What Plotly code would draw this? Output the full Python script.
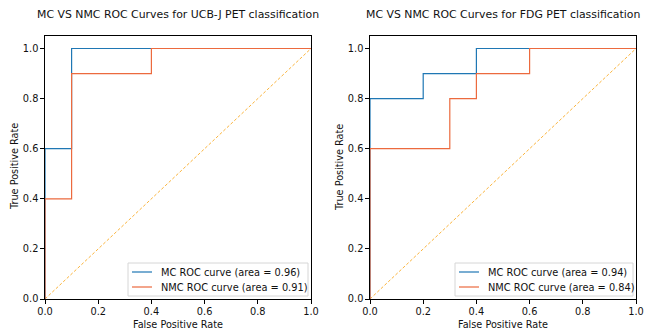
import plotly.graph_objects as go

# ---- data ----
ucbj_mc_fpr = [0.0, 0.0, 0.1, 0.1, 1.0]
ucbj_mc_tpr = [0.0, 0.6, 0.6, 1.0, 1.0]
ucbj_nmc_fpr = [0.0, 0.0, 0.1, 0.1, 0.4, 0.4, 1.0]
ucbj_nmc_tpr = [0.0, 0.4, 0.4, 0.9, 0.9, 1.0, 1.0]
fdg_mc_fpr = [0.0, 0.0, 0.2, 0.2, 0.4, 0.4, 1.0]
fdg_mc_tpr = [0.0, 0.8, 0.8, 0.9, 0.9, 1.0, 1.0]
fdg_nmc_fpr = [0.0, 0.0, 0.3, 0.3, 0.4, 0.4, 0.6, 0.6, 1.0]
fdg_nmc_tpr = [0.0, 0.6, 0.6, 0.8, 0.8, 0.9, 0.9, 1.0, 1.0]
diag = [0.0, 1.0]
titles = ["MC VS NMC ROC Curves for UCB-J PET classification",
          "MC VS NMC ROC Curves for FDG PET classification"]
mc_labels = ["MC ROC curve (area = 0.96)", "MC ROC curve (area = 0.94)"]
nmc_labels = ["NMC ROC curve (area = 0.91)", "NMC ROC curve (area = 0.84)"]
ticks = [0.0, 0.2, 0.4, 0.6, 0.8, 1.0]
tick_text = ["0.0", "0.2", "0.4", "0.6", "0.8", "1.0"]

W, H = 646, 333
BLUE = "#1f77b4"
RED = "#ec6a3e"
ORANGE = "#fbb43c"
FONT = "DejaVu Sans"
TXT = "#111"

fig = go.Figure()
panels = [
    (ucbj_mc_fpr, ucbj_mc_tpr, ucbj_nmc_fpr, ucbj_nmc_tpr, "x", "y"),
    (fdg_mc_fpr, fdg_mc_tpr, fdg_nmc_fpr, fdg_nmc_tpr, "x2", "y2"),
]
for mf, mt, nf, nt, xa, ya in panels:
    fig.add_trace(go.Scatter(x=diag, y=diag, mode="lines", xaxis=xa, yaxis=ya,
                             line=dict(color=ORANGE, width=1, dash="3px,2px"),
                             showlegend=False, hoverinfo="skip"))
    fig.add_trace(go.Scatter(x=mf, y=mt, mode="lines", xaxis=xa, yaxis=ya,
                             line=dict(color=BLUE, width=1.2), showlegend=False))
    fig.add_trace(go.Scatter(x=nf, y=nt, mode="lines", xaxis=xa, yaxis=ya,
                             line=dict(color=RED, width=1.2), showlegend=False))

px_l = [45, 370]
px_r = [311, 636]
top, bot = 36, 299
axis_common = dict(range=[0, 1], showgrid=False, zeroline=False, showline=True,
                   linecolor="black", linewidth=1.3, mirror=True, ticks="outside",
                   ticklen=3.5, tickcolor="black", tickwidth=1, automargin=False,
                   tickvals=ticks, ticktext=tick_text, layer="above traces",
                   tickfont=dict(family=FONT, size=9.8, color=TXT))
layout = dict(width=W, height=H, margin=dict(l=0, r=0, t=0, b=0, autoexpand=False),
              plot_bgcolor="white", paper_bgcolor="white", showlegend=False)
for i in range(2):
    xk = "xaxis" if i == 0 else "xaxis2"
    yk = "yaxis" if i == 0 else "yaxis2"
    xd = [px_l[i] / W, px_r[i] / W]
    yd = [1 - bot / H, 1 - top / H]
    layout[xk] = dict(axis_common, domain=xd, anchor="y" if i == 0 else "y2")
    layout[yk] = dict(axis_common, domain=yd, range=[0, 1.05],
                      anchor="x" if i == 0 else "x2")
fig.update_layout(**layout)

ann = []
shapes = []
for i in range(2):
    cx = (px_l[i] + px_r[i]) / 2 / W
    ann.append(dict(text=titles[i], x=cx, y=1 - 14 / H, xref="paper", yref="paper",
                    showarrow=False, xanchor="center", yanchor="middle",
                    font=dict(family=FONT, size=10.9, color=TXT)))
    ann.append(dict(text="False Positive Rate", x=cx, y=1 - 324 / H, xref="paper",
                    yref="paper", showarrow=False, xanchor="center", yanchor="middle",
                    font=dict(family=FONT, size=9.7, color=TXT)))
    ann.append(dict(text="True Positive Rate", x=(px_l[i] - 31) / W, y=1 - 167 / H,
                    xref="paper", yref="paper", showarrow=False, textangle=-90,
                    xanchor="center", yanchor="middle",
                    font=dict(family=FONT, size=9.7, color=TXT)))
    # legend box
    lx1 = px_r[i] - 3
    lx0 = lx1 - (180 if i == 0 else 178)
    ly0, ly1 = 263, 296
    shapes.append(dict(type="rect", xref="paper", yref="paper",
                       x0=lx0 / W, x1=lx1 / W, y0=1 - ly1 / H, y1=1 - ly0 / H,
                       line=dict(color="#d6d6d6", width=1), fillcolor="rgba(255,255,255,0.85)",
                       layer="above"))
    for j, (lab, col) in enumerate([(mc_labels[i], BLUE), (nmc_labels[i], RED)]):
        yy = 1 - (272 + j * 15) / H
        shapes.append(dict(type="line", xref="paper", yref="paper",
                           x0=(lx0 + 4) / W, x1=(lx0 + 24) / W, y0=yy, y1=yy,
                           line=dict(color=col, width=1.2), layer="above"))
        ann.append(dict(text=lab, x=(lx0 + 31) / W, y=yy, xref="paper", yref="paper",
                        showarrow=False, xanchor="left", yanchor="middle",
                        font=dict(family=FONT, size=9.8, color=TXT)))
fig.update_layout(annotations=ann, shapes=shapes)

fig.write_html("out.html", config={"displayModeBar": False},
               post_script="document.body.style.margin='0';document.body.style.overflow='hidden';")
